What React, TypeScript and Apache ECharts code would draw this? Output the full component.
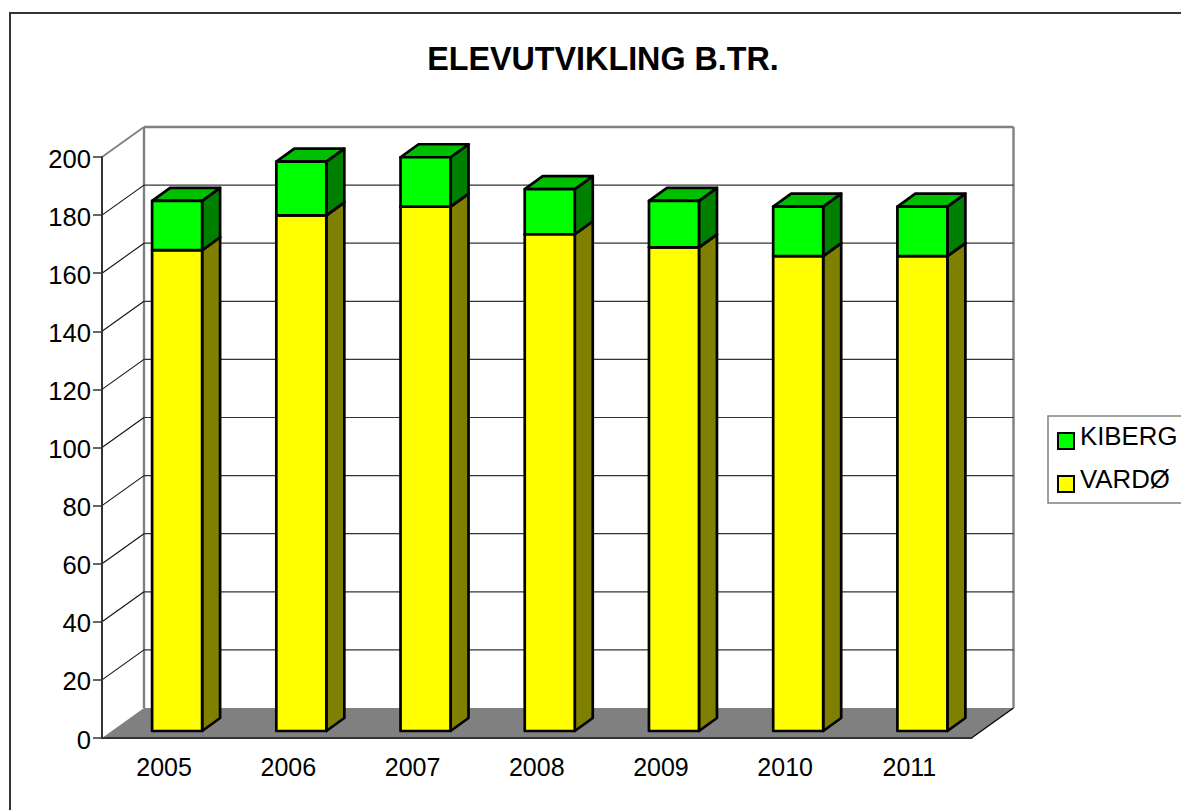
import React, { useEffect, useRef } from "react";
import * as echarts from "echarts";

const categories = ["2005", "2006", "2007", "2008", "2009", "2010", "2011"];
const vardo = [165.5, 177.5, 180.5, 171, 166.5, 163.5, 163.5];
const kiberg = [17, 18.5, 17, 15.5, 16, 17, 17];
const yTicks = [0, 20, 40, 60, 80, 100, 120, 140, 160, 180, 200];

const FONT = "'Liberation Sans', Arial, sans-serif";
const DX = 42, DY = -30;
const BAR_DX = 13, BAR_DY = -7, BAR_W = 50, SIDE_DX = 18, SIDE_DY = -13;

const barSeries = (name: string, color: string, top: string, side: string, bases: number[], values: number[]) => ({
  type: "custom",
  name,
  z: name === "KIBERG" ? 5 : 4,
  clip: false,
  silent: true,
  itemStyle: { color },
  data: values.map((v, i) => [i, bases[i], bases[i] + v]),
  renderItem: (_p: any, api: any) => {
    const a = api.coord([api.value(0), api.value(1)]);
    const b = api.coord([api.value(0), api.value(2)]);
    const l = a[0] + BAR_DX - BAR_W / 2;
    const r = l + BAR_W;
    const y0 = a[1] + BAR_DY;
    const y1 = b[1] + BAR_DY;
    const st = (fill: string) => ({ fill, stroke: "#000", lineWidth: 2.7, lineJoin: "round" });
    return {
      type: "group",
      children: [
        { type: "polygon", shape: { points: [[r, y0], [r + SIDE_DX, y0 + SIDE_DY], [r + SIDE_DX, y1 + SIDE_DY], [r, y1]] }, style: st(side) },
        { type: "polygon", shape: { points: [[l, y1], [l + SIDE_DX, y1 + SIDE_DY], [r + SIDE_DX, y1 + SIDE_DY], [r, y1]] }, style: st(top) },
        { type: "rect", shape: { x: l, y: y1, width: BAR_W, height: y0 - y1 }, style: st(color) },
      ],
    };
  },
});

const frameSeries = {
  type: "custom",
  name: "frame",
  z: 1,
  clip: false,
  silent: true,
  data: yTicks.map((t) => [t]),
  renderItem: (_p: any, api: any) => {
    const t = api.value(0);
    const band = api.size([1, 0])[0];
    const [c0, y] = api.coord([0, t]);
    const x0 = c0 - band / 2;
    const x1 = x0 + band * categories.length;
    const children: any[] = [];
    const gray = { stroke: "#808080", lineWidth: 2.4, fill: "none" };
    if (t === 0) {
      children.push({ type: "polygon", shape: { points: [[x0, y], [x0 + DX, y + DY], [x1 + DX, y + DY], [x1, y]] }, style: { fill: "#808080" } });
      children.push({ type: "line", shape: { x1, y1: y, x2: x1 + DX, y2: y + DY }, style: { stroke: "#000", lineWidth: 1.2 } });
      children.push({ type: "line", shape: { x1: x0 + DX, y1: y + DY, x2: x0 + DX, y2: y + DY - 581 }, style: gray });
      children.push({ type: "line", shape: { x1: x1 + DX, y1: y + DY, x2: x1 + DX, y2: y + DY - 581 }, style: gray });
    } else if (t === 200) {
      children.push({ type: "line", shape: { x1: x0, y1: y, x2: x0 + DX, y2: y + DY }, style: { stroke: "#808080", lineWidth: 1.8 } });
      children.push({ type: "line", shape: { x1: x0 + DX, y1: y + DY, x2: x1 + DX, y2: y + DY }, style: gray });
    } else {
      children.push({ type: "line", shape: { x1: x0, y1: y, x2: x0 + DX, y2: y + DY }, style: { stroke: "#111", lineWidth: 1.1 } });
      children.push({ type: "line", shape: { x1: x0 + DX, y1: y + DY, x2: x1 + DX, y2: y + DY }, style: { stroke: "#333", lineWidth: 1.2 } });
    }
    return { type: "group", children };
  },
};

export default function App() {
  const ref = useRef<HTMLDivElement>(null);
  useEffect(() => {
    document.body.style.margin = "0";
    document.body.style.overflow = "hidden";
    const chart = echarts.init(ref.current!, null, { renderer: "svg" });
    const axisLine = { lineStyle: { color: "#333", width: 2 } };
    chart.setOption({
      animation: false,
      backgroundColor: "#fff",
      title: {
        text: "ELEVUTVIKLING B.TR.",
        left: 598,
        top: 38,
        textAlign: "center",
        textStyle: { fontFamily: FONT, fontWeight: "bold", fontSize: 32.3, color: "#000" },
      },
      graphic: [
        { type: "rect", z: -10, silent: true, shape: { x: 10, y: 13, width: 1300, height: 900 }, style: { fill: "#fff", stroke: "#333", lineWidth: 2 } },
      ],
      legend: {
        data: ["KIBERG", "VARDØ"],
        orient: "vertical",
        left: 1048,
        top: 416,
        padding: [7, 40, 1, 9],
        itemGap: 7,
        itemWidth: 16,
        itemHeight: 16,
        icon: "rect",
        borderColor: "#808080",
        borderWidth: 1.5,
        backgroundColor: "#fff",
        itemStyle: { borderColor: "#000", borderWidth: 2 },
        formatter: "{t|{name}}",
        textStyle: {
          fontFamily: FONT,
          fontSize: 25.8,
          color: "#000",
          rich: { t: { fontFamily: FONT, fontSize: 25.8, color: "#000", lineHeight: 26, padding: [0, 0, 10, 1] } },
        },
      },
      grid: { left: 102, top: 157, width: 869.5, height: 581, containLabel: false },
      xAxis: {
        type: "category",
        data: categories,
        axisLine,
        axisTick: { length: 9, alignWithLabel: false, lineStyle: { color: "#555", width: 1.5 } },
        axisLabel: { fontFamily: FONT, fontSize: 25, color: "#000", margin: 16 },
        splitLine: { show: false },
        z: 3,
      },
      yAxis: {
        type: "value",
        min: 0,
        max: 200,
        interval: 20,
        axisLine: { show: true, ...axisLine },
        axisTick: { show: true, length: 9, lineStyle: { color: "#333", width: 1.5 } },
        axisLabel: {
          fontFamily: FONT,
          fontSize: 25.6,
          color: "#000",
          margin: 11,
          formatter: "{v|{value}}",
          rich: { v: { fontFamily: FONT, fontSize: 25.6, color: "#000", lineHeight: 26, padding: [3, 0, 0, 0] } },
        },
        splitLine: { show: false },
        z: 3,
      },
      series: [
        frameSeries,
        barSeries("VARDØ", "#ffff00", "#bfbf00", "#808000", vardo.map(() => 0), vardo),
        barSeries("KIBERG", "#00ff00", "#00bf00", "#008000", vardo, kiberg),
      ],
    });
    return () => chart.dispose();
  }, []);
  return <div ref={ref} style={{ width: 1181, height: 810 }} />;
}
